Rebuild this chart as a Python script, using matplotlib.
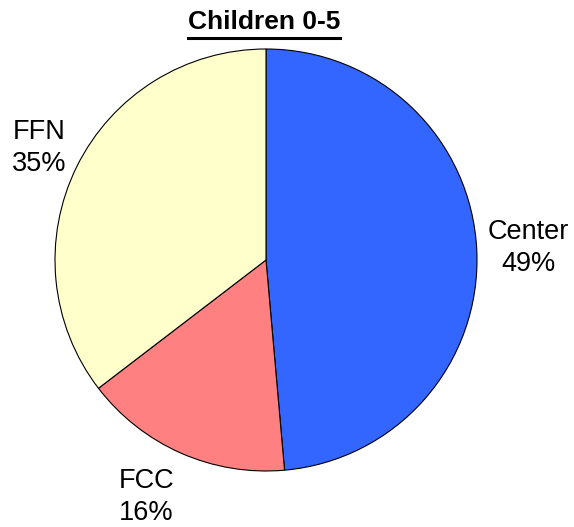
import numpy as np
import matplotlib
matplotlib.use("Agg")
import matplotlib.pyplot as plt
from matplotlib.lines import Line2D

plt.rcParams['font.family'] = ['Liberation Sans', 'DejaVu Sans']

title = "Children 0-5"
categories = ["Center", "FCC", "FFN"]
values = [48.6, 16.0, 35.4]
colors = ["#3366FF", "#FF8080", "#FFFFCC"]

W, H = 574, 527
fig = plt.figure(figsize=(W / 100, H / 100), dpi=100)
ax = fig.add_axes([0, 0, 1, 1])
R = 211.0
cx, cy = 266.0, 260.0

wedges, _ = ax.pie(values, colors=colors, startangle=90, counterclock=False,
                   radius=1.0, wedgeprops=dict(edgecolor='black', linewidth=0.8))
ax.set_xlim(-cx / R, (W - cx) / R)
ax.set_ylim(-(H - cy) / R, cy / R)
ax.set_aspect('auto')
ax.axis('off')

total = sum(values)
dists = [1.245, 1.257, 1.2]
ang_off = [0.0, -3.0, 0.0]
for w, cat, v, d, off in zip(wedges, categories, values, dists, ang_off):
    ang = np.deg2rad((w.theta1 + w.theta2) / 2 + off)
    ax.text(d * np.cos(ang), d * np.sin(ang), f"{cat}\n{round(100 * v / total)}%",
            ha='center', va='center', fontsize=19.5, linespacing=1.3)

t = fig.text(264 / W, 1 - 22 / H, title, ha='center', va='center', fontsize=19, fontweight='bold')
fig.canvas.draw()
bb = t.get_window_extent(renderer=fig.canvas.get_renderer())
yline = 1 - 38 / H
fig.add_artist(Line2D([bb.x0 / W, bb.x1 / W], [yline, yline], transform=fig.transFigure,
                      color='black', linewidth=2.2))

fig.savefig("out.png", dpi=100)
